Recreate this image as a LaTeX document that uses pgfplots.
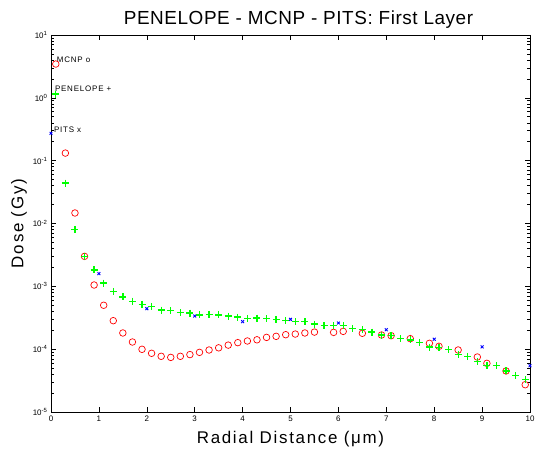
\documentclass[border=0pt]{standalone}
\usepackage{pgfplots}
\pgfplotsset{compat=1.18}
\usepackage{fontspec}
\setmainfont{Liberation Sans}
\newfontfamily\spaced[LetterSpace=10]{Liberation Sans}
\newfontfamily\titlefont[LetterSpace=3]{Liberation Sans}
\definecolor{mred}{RGB}{255,0,0}
\definecolor{pgreen}{RGB}{0,255,0}
\definecolor{pblue}{RGB}{0,0,255}
\begin{document}
\begin{tikzpicture}
\useasboundingbox (-51bp,-43bp) rectangle (484bp,412bp);
\begin{axis}[
  scale only axis,
  width=479bp, height=377bp,
  ymode=log,
  xmin=0, xmax=10, ymin=1e-5, ymax=10,
  xtick={0,1,...,10},
  ytick={1e-5,1e-4,1e-3,1e-2,1e-1,1,10},
  yticklabels={10\textsuperscript{-5},10\textsuperscript{-4},10\textsuperscript{-3},10\textsuperscript{-2},10\textsuperscript{-1},10\textsuperscript{0},10\textsuperscript{1}},
  /pgf/number format/assume math mode=true,
  tick label style={font=\fontsize{8}{9}\selectfont},
  tick align=inside,
  major tick length=5bp, minor tick length=3bp,
  axis line style={line width=1pt},
  every tick/.style={black, line width=0.6pt},
  title={PENELOPE - MCNP - PITS: First Layer},
  title style={font=\titlefont\fontsize{19}{21}\selectfont, yshift=-3bp, xshift=8bp},
  xlabel={Radial Distance (μm)},
  ylabel={Dose (Gy)},
  label style={font=\spaced\fontsize{17}{19}\selectfont},
  xlabel style={yshift=-3bp},
  ylabel style={yshift=-1bp},
  clip=false,
]
% MCNP
\addplot[only marks, mark=o, color=mred, mark size=3.3bp, line width=0.7pt,
  mark options={draw=mred}] coordinates {
(0.1,3.45) (0.3,0.132) (0.5,1.47e-2) (0.7,3.0e-3) (0.9,1.05e-3) (1.1,5.0e-4)
(1.3,2.84e-4) (1.5,1.81e-4) (1.7,1.30e-4) (1.9,9.95e-5) (2.1,8.6e-5) (2.3,7.7e-5)
(2.5,7.4e-5) (2.7,7.7e-5) (2.9,8.2e-5) (3.1,8.9e-5) (3.3,9.7e-5) (3.5,1.05e-4)
(3.7,1.16e-4) (3.9,1.27e-4) (4.1,1.35e-4) (4.3,1.41e-4) (4.5,1.54e-4) (4.7,1.60e-4)
(4.9,1.70e-4) (5.1,1.74e-4) (5.3,1.81e-4) (5.5,1.87e-4) (5.9,1.85e-4) (6.1,1.92e-4)
(6.5,1.79e-4) (6.9,1.68e-4) (7.1,1.64e-4) (7.5,1.47e-4) (7.9,1.24e-4) (8.1,1.11e-4)
(8.5,9.7e-5) (8.9,7.5e-5) (9.1,5.95e-5) (9.5,4.5e-5) (9.9,2.72e-5)
};
% PENELOPE
\addplot[only marks, mark=+, color=pgreen, mark size=3.5bp, line width=1.3bp,
  mark options={draw=pgreen}] coordinates {
(0.1,1.15) (0.3,4.41e-2) (0.5,8.1e-3) (0.7,3.0e-3) (0.9,1.82e-3) (1.1,1.13e-3)
(1.3,8.3e-4) (1.5,6.8e-4) (1.7,5.8e-4) (1.9,5.2e-4) (2.1,4.8e-4) (2.3,4.2e-4)
(2.5,4.1e-4) (2.7,3.8e-4) (2.9,3.76e-4) (3.1,3.5e-4) (3.3,3.59e-4) (3.5,3.5e-4)
(3.7,3.37e-4) (3.9,3.25e-4) (4.1,3.1e-4) (4.3,3.12e-4) (4.5,3.05e-4) (4.7,2.98e-4)
(4.9,2.88e-4) (5.1,2.74e-4) (5.3,2.74e-4) (5.5,2.51e-4) (5.7,2.40e-4) (5.9,2.40e-4)
(6.1,2.40e-4) (6.3,2.15e-4) (6.5,2.04e-4) (6.7,1.87e-4) (6.9,1.68e-4) (7.1,1.64e-4)
(7.3,1.49e-4) (7.5,1.40e-4) (7.7,1.29e-4) (7.9,1.08e-4) (8.1,1.05e-4) (8.3,9.8e-5)
(8.5,8.3e-5) (8.7,7.7e-5) (8.9,6.4e-5) (9.1,5.5e-5) (9.3,5.5e-5) (9.5,4.5e-5)
(9.7,3.78e-5) (9.9,3.31e-5)
};
% PITS
\addplot[only marks, mark=x, color=pblue, mark size=2bp, line width=0.9pt,
  mark options={draw=pblue}] coordinates {
(0,0.272) (1,1.59e-3) (2,4.41e-4) (3,3.37e-4) (4,2.74e-4) (5,2.98e-4)
(6,2.61e-4) (7,2.04e-4) (8,1.44e-4) (9,1.09e-4) (10,5.46e-5)
};
\node[anchor=west, font=\spaced\fontsize{8}{9}\selectfont, inner sep=0pt] at (axis cs:0.12,4.0) {MCNP o};
\node[anchor=west, font=\spaced\fontsize{8}{9}\selectfont, inner sep=0pt] at (axis cs:0.08,1.38) {PENELOPE +};
\node[anchor=west, font=\spaced\fontsize{8}{9}\selectfont, inner sep=0pt] at (axis cs:0.06,0.31) {PITS x};
\end{axis}
\end{tikzpicture}
\end{document}
